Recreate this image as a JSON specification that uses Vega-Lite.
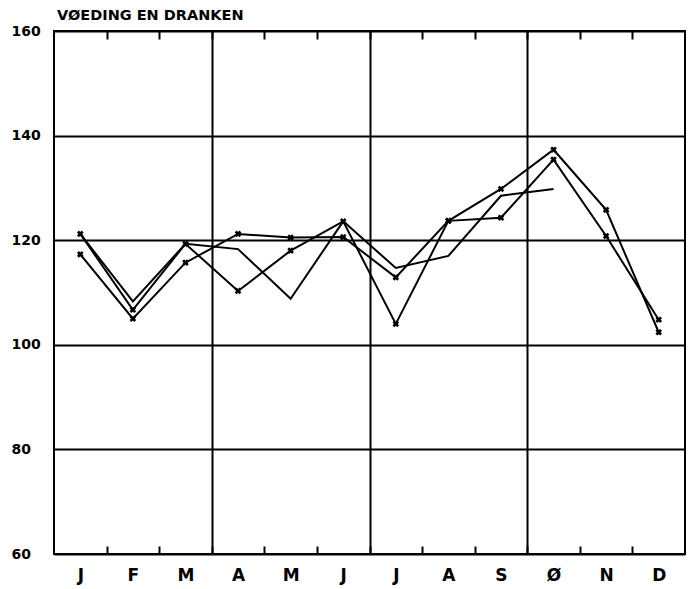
{
  "$schema": "https://vega.github.io/schema/vega-lite/v6.json",
  "autosize": "none",
  "width": 631,
  "height": 523,
  "padding": {"left": 54, "top": 31, "right": 5, "bottom": 35},
  "background": "white",
  "config": {
    "view": {"stroke": "black", "strokeWidth": 2},
    "font": "DejaVu Sans"
  },
  "title": {
    "text": "VØEDING EN DRANKEN",
    "anchor": "start",
    "frame": "group",
    "offset": 1,
    "dx": 3,
    "font": "DejaVu Sans",
    "fontSize": 14.5,
    "fontWeight": "bold",
    "color": "black"
  },
  "data": {
    "values": [
      {"reeks": "A", "maand": 1, "index": 121.2},
      {"reeks": "A", "maand": 2, "index": 108.3},
      {"reeks": "A", "maand": 3, "index": 119.3},
      {"reeks": "A", "maand": 4, "index": 118.3},
      {"reeks": "A", "maand": 5, "index": 108.8},
      {"reeks": "A", "maand": 6, "index": 123.6},
      {"reeks": "A", "maand": 7, "index": 114.7},
      {"reeks": "A", "maand": 8, "index": 117.0},
      {"reeks": "A", "maand": 9, "index": 128.5},
      {"reeks": "A", "maand": 10, "index": 129.8},
      {"reeks": "B", "maand": 1, "index": 121.2},
      {"reeks": "B", "maand": 2, "index": 106.7},
      {"reeks": "B", "maand": 3, "index": 119.3},
      {"reeks": "B", "maand": 4, "index": 110.3},
      {"reeks": "B", "maand": 5, "index": 118.0},
      {"reeks": "B", "maand": 6, "index": 123.6},
      {"reeks": "B", "maand": 7, "index": 104.0},
      {"reeks": "B", "maand": 8, "index": 123.7},
      {"reeks": "B", "maand": 9, "index": 124.3},
      {"reeks": "B", "maand": 10, "index": 135.4},
      {"reeks": "B", "maand": 11, "index": 120.8},
      {"reeks": "B", "maand": 12, "index": 104.8},
      {"reeks": "C", "maand": 1, "index": 117.3},
      {"reeks": "C", "maand": 2, "index": 105.0},
      {"reeks": "C", "maand": 3, "index": 115.7},
      {"reeks": "C", "maand": 4, "index": 121.2},
      {"reeks": "C", "maand": 5, "index": 120.5},
      {"reeks": "C", "maand": 6, "index": 120.6},
      {"reeks": "C", "maand": 7, "index": 112.9},
      {"reeks": "C", "maand": 8, "index": 123.7},
      {"reeks": "C", "maand": 9, "index": 129.8},
      {"reeks": "C", "maand": 10, "index": 137.3},
      {"reeks": "C", "maand": 11, "index": 125.8},
      {"reeks": "C", "maand": 12, "index": 102.4}
    ]
  },
  "resolve": {"axis": {"x": "independent", "y": "independent"}},
  "layer": [
    {
      "mark": {"type": "line", "color": "black", "strokeWidth": 2},
      "encoding": {
        "x": {
          "field": "maand",
          "type": "quantitative",
          "scale": {"domain": [0.5, 12.5], "nice": false, "zero": false},
          "axis": {
            "orient": "bottom",
            "title": null,
            "domain": false,
            "values": [1, 1.5, 2, 2.5, 3, 3.5, 4, 4.5, 5, 5.5, 6, 6.5, 7, 7.5, 8, 8.5, 9, 9.5, 10, 10.5, 11, 11.5, 12],
            "labelExpr": "datum.value % 1 == 0 ? ['J','F','M','A','M','J','J','A','S','Ø','N','D'][datum.value - 1] : ''",
            "labelFont": "DejaVu Sans",
            "labelFontSize": 17,
            "labelFontWeight": "bold",
            "labelColor": "black",
            "labelOverlap": false,
            "labelFlush": false,
            "labelBound": false,
            "labelPadding": 21,
            "ticks": true,
            "tickSize": -8,
            "tickWidth": 2,
            "tickColor": "black",
            "tickOpacity": {"condition": {"test": "datum.value % 1 == 0", "value": 0}, "value": 1},
            "grid": true,
            "gridColor": "black",
            "gridWidth": 2,
            "gridOpacity": {"condition": {"test": "datum.value == 3.5 || datum.value == 6.5 || datum.value == 9.5", "value": 1}, "value": 0}
          }
        },
        "y": {
          "field": "index",
          "type": "quantitative",
          "scale": {"domain": [60, 160], "nice": false, "zero": false},
          "axis": {
            "orient": "left",
            "title": null,
            "domain": false,
            "ticks": false,
            "values": [60, 80, 100, 120, 140, 160],
            "labelFont": "DejaVu Sans",
            "labelFontSize": 14,
            "labelFontWeight": "bold",
            "labelColor": "black",
            "labelAlign": "left",
            "labelPadding": 43,
            "labelOverlap": false,
            "labelFlush": false,
            "labelBound": false,
            "grid": true,
            "gridColor": "black",
            "gridWidth": 2,
            "gridOpacity": 1
          }
        },
        "detail": {"field": "reeks"}
      }
    },
    {
      "transform": [{"filter": "datum.reeks != 'A'"}],
      "mark": {"type": "point", "shape": "cross", "angle": 45, "filled": true, "color": "black", "size": 45, "opacity": 1},
      "encoding": {
        "x": {
          "field": "maand",
          "type": "quantitative",
          "axis": {
            "orient": "top",
            "title": null,
            "domain": false,
            "labels": false,
            "grid": false,
            "values": [1.5, 2.5, 3.5, 4.5, 5.5, 6.5, 7.5, 8.5, 9.5, 10.5, 11.5],
            "tickSize": -8,
            "tickWidth": 2,
            "tickColor": "black"
          }
        },
        "y": {
          "field": "index",
          "type": "quantitative",
          "axis": null
        }
      }
    }
  ]
}
